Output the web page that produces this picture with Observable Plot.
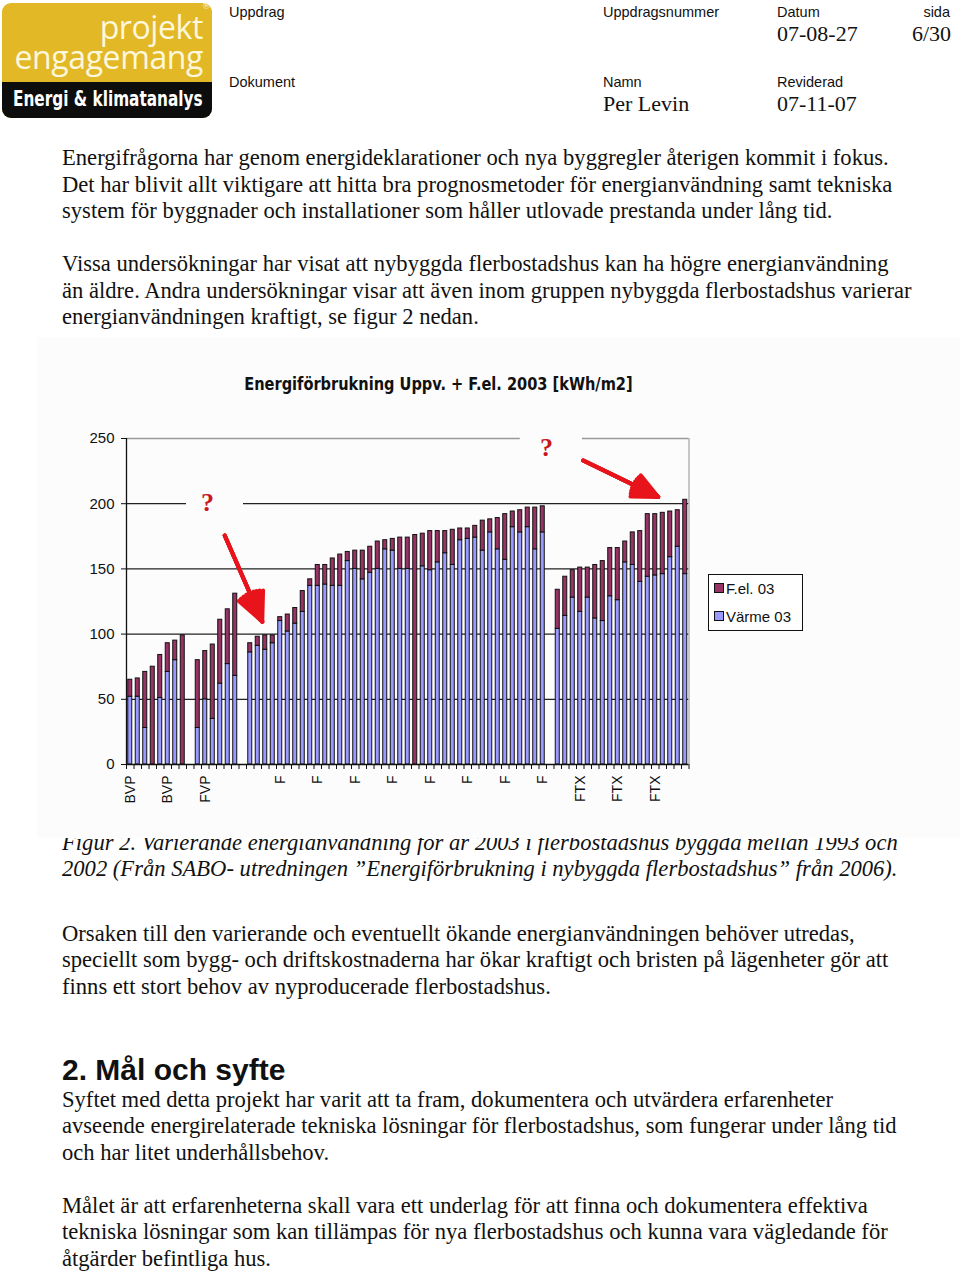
<!DOCTYPE html>
<html>
<head>
<meta charset="utf-8">
<script src="https://cdn.jsdelivr.net/npm/d3@7"></script>
<script src="https://cdn.jsdelivr.net/npm/@observablehq/plot@0.6"></script>
<style>
  html, body { margin: 0; padding: 0; background: #fff; }
  body { width: 960px; height: 1271px; position: relative; overflow: hidden; }
  .abs { position: absolute; white-space: nowrap; }
  .serif { font-family: "Liberation Serif", "Times New Roman", serif; color: #111; }
  .sans { font-family: "Liberation Sans", Arial, sans-serif; color: #111; }
  .body { font-size: 22.6px; line-height: 26.5px; }
  .hlab { font-size: 14.5px; line-height: 18px; }
  .hval { font-size: 22px; line-height: 26px; }
  #logo { left: 2px; top: 3px; width: 210px; height: 115px; border-radius: 9px; overflow: hidden; background: #e2b827; }
  #logo .band { position: absolute; left: 0; top: 79px; width: 210px; height: 36px; background: #0d0d0d; }
  #chartbox { position: absolute; left: 37px; top: 337px; width: 923px; height: 501px; background: #fcfcfc; z-index: 2; overflow: hidden; }
  #ctitle { position: absolute; left: 0; width: 803px; top: 36px; text-align: center; font-family: "Liberation Sans Narrow", "Arial Narrow", "DejaVu Sans Condensed", sans-serif; font-weight: bold; font-size: 18px; color: #111; transform: scaleX(0.9); transform-origin: 401px 50%; }
  #legend { position: absolute; left: 671px; top: 237px; width: 93px; height: 55px; border: 1px solid #111; background: #fff; font-family: "Liberation Sans", Arial, sans-serif; font-size: 15px; color: #111; }
  #legend .item { position: absolute; left: 5px; height: 18px; line-height: 18px; }
  #legend .sw { display: inline-block; width: 8px; height: 8px; border: 1px solid #111; margin-right: 2px; vertical-align: 1px; }
</style>
</head>
<body>
<script>
// ---- Data ----
// Category index 0..74; labels are shown on every fifth category
const tickLabels = ["BVP", "BVP", "FVP", "", "F", "F", "F", "F", "F", "F", "F", "F", "FTX", "FTX", "FTX"];
// Värme 03 (heating) per category, null = empty slot
const varme = [
  52, 52, 28, 0, 51, 71, 80, 0, null, 28,
  50, 35, 62, 77, 68, null, 86, 91, 88, 93,
  110, 102, 108, 117, 137, 137, 138, 137, 137, 156,
  150, 142, 147, 150, 165, 164, 150, 150, 0, 152,
  149, 155, 162, 153, 172, 173, 174, 164, 178, 165,
  157, 182, 178, 182, 165, 178, null, 104, 114, 128,
  117, 128, 112, 110, 129, 126, 155, 153, 140, 144,
  145, 146, 159, 167, 146
];
// F.el. 03 (facility electricity) per category
const fel = [
  13, 14, 43, 75, 33, 22, 15, 99, null, 52,
  37, 57, 49, 42, 63, null, 7, 7, 11, 6,
  3, 13, 12, 16, 5, 16, 15, 21, 24, 7,
  14, 22, 20, 21, 7, 9, 24, 24, 176, 25,
  30, 24, 17, 27, 9, 8, 9, 23, 10, 24,
  35, 12, 17, 15, 32, 20, null, 30, 30, 21,
  34, 23, 41, 46, 37, 40, 16, 25, 39, 48,
  47, 47, 35, 28, 57
];
const yTicks = [0, 50, 100, 150, 200, 250];
const seriesNames = ["F.el. 03", "Värme 03"];
const seriesColors = ["#993366", "#9999ff"];
// Annotations (data space: category index, kWh/m2)
const questionMarks = [{x: 10.8, y: 200.5}, {x: 56, y: 243}];
const labelBoxes = [{x1: 8, x2: 15.6, y1: 188, y2: 214}, {x1: 52.5, x2: 60.8, y1: 236, y2: 262}];
const arrows = [
  {x1: 13.1, y1: 175.6, x2: 18.1, y2: 109.5},
  {x1: 60.9, y1: 233.1, x2: 70.9, y2: 205.2}
];

// ---- Build tables ----
const idx = d3.range(varme.length);
const heatRows = idx.filter(i => varme[i] != null && varme[i] > 0).map(i => ({i, y1: 0, y2: varme[i]}));
const elRows = idx.filter(i => fel[i] != null && fel[i] > 0).map(i => ({i, y1: varme[i] || 0, y2: (varme[i] || 0) + fel[i]}));
const labelRows = tickLabels.map((t, k) => ({i: k * 5, t})).filter(d => d.t);

// ---- Page ----
function add(html, cls, left, top, extra) {
  const d = document.createElement("div");
  d.className = "abs " + cls;
  d.style.left = left + "px";
  d.style.top = top + "px";
  if (extra) Object.assign(d.style, extra);
  d.innerHTML = html;
  document.body.appendChild(d);
  return d;
}

// Logo
const logo = add(`<div class="band"></div>`, "", 2, 3);
logo.id = "logo";
add("projekt<br>engagemang", "", 0, 12, {width: "203px", textAlign: "right", fontFamily: "'Open Sans', sans-serif", fontSize: "32px", lineHeight: "30px", color: "#fdf7dc", letterSpacing: "-0.4px", zIndex: 1});
add("®", "", 203, 1, {fontFamily: "Liberation Sans, sans-serif", fontSize: "9px", lineHeight: "10px", color: "#fdf7dc", zIndex: 1});
add("Energi &amp; klimatanalys", "", 13, 86, {fontFamily: "'Liberation Sans Narrow', 'Arial Narrow', 'DejaVu Sans Condensed', sans-serif", fontWeight: "bold", fontSize: "21px", lineHeight: "26px", color: "#fff", zIndex: 1, transform: "scaleX(0.81)", transformOrigin: "0 50%"});

// Header
add("Uppdrag", "sans hlab", 229, 3);
add("Uppdragsnummer", "sans hlab", 603, 3);
add("Datum", "sans hlab", 777, 3);
add("sida", "sans hlab", 0, 3, {width: "950px", textAlign: "right"});
add("07-08-27", "serif hval", 777, 21);
add("6/30", "serif hval", 0, 21, {width: "951px", textAlign: "right"});
add("Dokument", "sans hlab", 229, 73);
add("Namn", "sans hlab", 603, 73);
add("Reviderad", "sans hlab", 777, 73);
add("Per Levin", "serif hval", 603, 91);
add("07-11-07", "serif hval", 777, 91);

// Body text
add("Energifrågorna har genom energideklarationer och nya byggregler återigen kommit i fokus.<br>Det har blivit allt viktigare att hitta bra prognosmetoder för energianvändning samt tekniska<br>system för byggnader och installationer som håller utlovade prestanda under lång tid.", "serif body", 62, 145);
add("Vissa undersökningar har visat att nybyggda flerbostadshus kan ha högre energianvändning<br>än äldre. Andra undersökningar visar att även inom gruppen nybyggda flerbostadshus varierar<br>energianvändningen kraftigt, se figur 2 nedan.", "serif body", 62, 251);
add("Figur 2. Varierande energianvändning för år 2003 i flerbostadshus byggda mellan 1993 och<br>2002 (Från SABO- utredningen ”Energiförbrukning i nybyggda flerbostadshus” från 2006).", "serif body", 62, 829.5, {fontStyle: "italic"});
add("Orsaken till den varierande och eventuellt ökande energianvändningen behöver utredas,<br>speciellt som bygg- och driftskostnaderna har ökar kraftigt och bristen på lägenheter gör att<br>finns ett stort behov av nyproducerade flerbostadshus.", "serif body", 62, 920.5);
add("2. Mål och syfte", "sans", 62, 1053, {fontSize: "30px", lineHeight: "34px", fontWeight: "bold"});
add("Syftet med detta projekt har varit att ta fram, dokumentera och utvärdera erfarenheter<br>avseende energirelaterade tekniska lösningar för flerbostadshus, som fungerar under lång tid<br>och har litet underhållsbehov.", "serif body", 62, 1086.5);
add("Målet är att erfarenheterna skall vara ett underlag för att finna och dokumentera effektiva<br>tekniska lösningar som kan tillämpas för nya flerbostadshus och kunna vara vägledande för<br>åtgärder befintliga hus.", "serif body", 62, 1192.5);

// Chart box
const box = document.createElement("div");
box.id = "chartbox";
document.body.appendChild(box);
const title = document.createElement("div");
title.id = "ctitle";
title.textContent = "Energiförbrukning Uppv. + F.el. 2003 [kWh/m2]";
box.appendChild(title);

// Arrow heads drawn as nested chevrons so the head reads as a filled triangle
const arrowMarks = [50, 38, 26, 14].map(a =>
  Plot.arrow(arrows, {x1: "x1", y1: "y1", x2: "x2", y2: "y2", stroke: "#e8141b", strokeWidth: 4, headLength: 16, headAngle: a}));

const chart = Plot.plot({
  width: 923,
  height: 501,
  marginLeft: 89,
  marginRight: 271.5,
  marginTop: 101,
  marginBottom: 74,
  style: {background: "transparent", fontFamily: "'Liberation Sans', Arial, sans-serif", fontSize: "15px", color: "#111", overflow: "visible"},
  x: {domain: [0, 75], ticks: d3.range(76), tickSize: 5, tickFormat: () => "", label: null},
  y: {domain: [0, 250], ticks: yTicks, tickSize: 5, tickPadding: 7, label: null},
  marks: [
    Plot.ruleY(yTicks.filter(v => v > 0 && v < 250), {stroke: "#222", strokeWidth: 1.3}),
    Plot.ruleY([250], {stroke: "#999", strokeWidth: 1.3}),
    Plot.ruleX([75], {stroke: "#aaa", strokeWidth: 1.3}),
    Plot.rect(labelBoxes, {x1: "x1", x2: "x2", y1: "y1", y2: "y2", fill: "#fcfcfc"}),
    Plot.rect(heatRows, {x1: d => d.i, x2: d => d.i + 1, y1: "y1", y2: "y2", insetLeft: 1.75, insetRight: 1.75, fill: seriesColors[1], stroke: "#111", strokeWidth: 1}),
    Plot.rect(elRows, {x1: d => d.i, x2: d => d.i + 1, y1: "y1", y2: "y2", insetLeft: 1.75, insetRight: 1.75, fill: seriesColors[0], stroke: "#111", strokeWidth: 1}),
    Plot.ruleX([0], {stroke: "#111", strokeWidth: 1.3}),
    Plot.ruleY([0], {stroke: "#111", strokeWidth: 1.3}),
    Plot.text(labelRows, {x: d => d.i + 0.5, y: 0, text: "t", rotate: -90, textAnchor: "end", lineAnchor: "middle", dy: 11, fontSize: 14, fill: "#111"}),
    ...arrowMarks,
    Plot.text(questionMarks, {x: "x", y: "y", text: () => "?", fill: "#c8161d", fontSize: 26, fontWeight: "bold", fontFamily: "'Liberation Serif', serif"})
  ]
});
chart.style.position = "absolute";
chart.style.left = "0px";
chart.style.top = "0px";
box.appendChild(chart);

// Legend
const legend = document.createElement("div");
legend.id = "legend";
legend.innerHTML = seriesNames.map((n, k) =>
  `<div class="item" style="top:${5 + k * 28}px"><span class="sw" style="background:${seriesColors[k]}"></span>${n}</div>`).join("");
box.appendChild(legend);
</script>
</body>
</html>
